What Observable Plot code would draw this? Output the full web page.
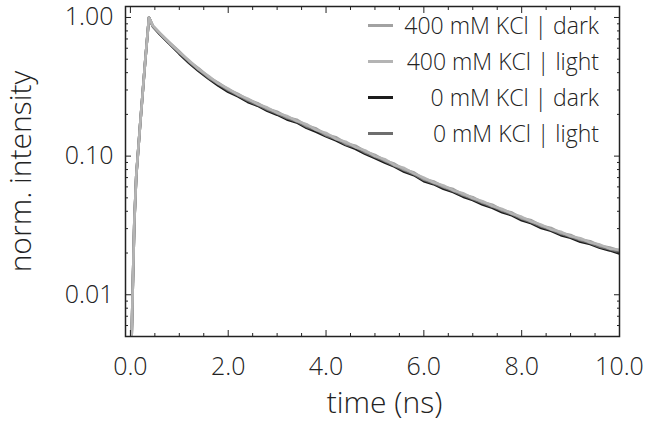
<!DOCTYPE html>
<html>
<head>
<meta charset="utf-8">
<script src="https://cdn.jsdelivr.net/npm/d3@7"></script>
<script src="https://cdn.jsdelivr.net/npm/@observablehq/plot@0.6"></script>
<style>
  body { margin: 0; background: #fff; }
  #wrap { position: relative; width: 650px; height: 426px; font-family: "Open Sans", sans-serif; font-weight: 300; color: #222; }
  #legend { position: absolute; left: 368px; top: 7px; width: 231px; font-size: 23px; }
  #legend .row { display: flex; align-items: center; height: 36px; }
  #legend .sw { width: 25px; height: 3px; flex: none; }
  #legend .lb { flex: 1; text-align: right; white-space: nowrap; color: #222; }
</style>
</head>
<body>
<div id="wrap"></div>
<script>
const seriesNames = ["400 mM KCl | dark", "400 mM KCl | light", "0 mM KCl | dark", "0 mM KCl | light"];
const seriesColors = ["#a2a2a2", "#b4b4b4", "#1c1c1c", "#6e6e6e"];

const time = [0.02,0.05,0.08,0.12,0.2,0.3,0.38,0.46,
  0.6,0.8,1.0,1.2,1.4,1.6,1.8,2.0,2.2,2.4,2.6,2.8,3.0,3.2,3.4,3.6,3.8,4.0,4.2,4.4,4.6,4.8,
  5.0,5.2,5.4,5.6,5.8,6.0,6.2,6.4,6.6,6.8,7.0,7.2,7.4,7.6,7.8,8.0,8.2,8.4,8.6,8.8,9.0,9.2,9.4,9.6,9.8,10.0];

const kcl400Dark = [0.004,0.012,0.033,0.072,0.17,0.47,1.0,0.87,
  0.77,0.66,0.568,0.484,0.428,0.372,0.338,0.303,0.281,0.256,0.241,0.220,0.209,0.191,0.183,0.166,0.158,0.143,0.137,0.124,0.119,0.108,
  0.102,0.093,0.088,0.080,0.0762,0.0685,0.0656,0.0602,0.0578,0.0528,0.0506,0.0464,0.0446,0.0408,0.0392,0.0357,0.0344,0.0315,0.0303,0.0279,0.0270,0.0250,0.0243,0.0226,0.0219,0.0209];
const kcl400Light = [0.004,0.012,0.033,0.072,0.17,0.47,1.0,0.87,
  0.775,0.655,0.562,0.49,0.422,0.378,0.333,0.307,0.277,0.260,0.237,0.224,0.205,0.195,0.179,0.170,0.154,0.147,0.133,0.127,0.116,0.110,
  0.100,0.095,0.086,0.082,0.0748,0.0698,0.0645,0.0615,0.0566,0.0540,0.0497,0.0473,0.0437,0.0416,0.0384,0.0365,0.0337,0.0320,0.0296,0.0285,0.0264,0.0256,0.0238,0.0230,0.0215,0.0211];
const kcl0Dark = [0.004,0.012,0.033,0.072,0.17,0.47,1.0,0.86,
  0.76,0.645,0.548,0.470,0.410,0.362,0.322,0.291,0.270,0.246,0.231,0.212,0.199,0.184,0.175,0.160,0.150,0.139,0.130,0.120,0.113,0.104,
  0.097,0.090,0.084,0.077,0.0728,0.0660,0.0628,0.0582,0.0550,0.0510,0.0482,0.0448,0.0424,0.0394,0.0374,0.0344,0.0328,0.0303,0.0289,0.0269,0.0258,0.0241,0.0232,0.0218,0.0209,0.0198];
const kcl0Light = [0.004,0.012,0.033,0.072,0.17,0.47,1.0,0.865,
  0.768,0.652,0.556,0.478,0.418,0.367,0.330,0.298,0.274,0.252,0.234,0.217,0.203,0.188,0.178,0.163,0.154,0.141,0.133,0.122,0.116,0.106,
  0.099,0.092,0.085,0.079,0.0738,0.0675,0.0637,0.0595,0.0560,0.0522,0.0490,0.0459,0.0432,0.0404,0.0380,0.0353,0.0333,0.0311,0.0294,0.0275,0.0262,0.0247,0.0236,0.0222,0.0213,0.0203];

const xMajor = [0, 2, 4, 6, 8, 10];
const xMinor = [0.5,1,1.5,2.5,3,3.5,4.5,5,5.5,6.5,7,7.5,8.5,9,9.5];
const yMajor = [0.01, 0.1, 1];
const yMinor = [0.006,0.007,0.008,0.009,0.02,0.03,0.04,0.05,0.06,0.07,0.08,0.09,0.2,0.3,0.4,0.5,0.6,0.7,0.8,0.9];
const xLabel = "time (ns)";
const yLabel = "norm. intensity";

const valuesBySeries = [kcl400Dark, kcl400Light, kcl0Dark, kcl0Light];
const rows = [];
valuesBySeries.forEach((vals, s) => vals.forEach((v, i) => rows.push({t: time[i], v, s: seriesNames[s]})));
const drawOrder = [2, 3, 0, 1];

const axisColor = "#222";
const plot = Plot.plot({
  width: 650,
  height: 426,
  marginLeft: 125,
  marginRight: 31,
  marginTop: 6,
  marginBottom: 90,
  style: {fontFamily: "'Open Sans', sans-serif", fontSize: "24px", fontWeight: 300, color: axisColor, background: "#fff", overflow: "visible"},
  x: {domain: [-0.1, 10], axis: null},
  y: {type: "log", domain: [0.005, 1.2], axis: null},
  marks: [
    ...drawOrder.map(s => Plot.line(rows.filter(d => d.s === seriesNames[s]), {x: "t", y: "v", stroke: seriesColors[s], strokeWidth: 2.6, clip: true})),
    Plot.frame({stroke: axisColor, strokeWidth: 1.5}),
    Plot.axisX(xMajor, {anchor: "bottom", tickSize: -6, tickFormat: () => "", stroke: axisColor, label: null}),
    Plot.axisX(xMinor, {anchor: "bottom", tickSize: -3, tickFormat: () => "", stroke: axisColor, label: null}),
    Plot.axisX(xMajor, {anchor: "top", tickSize: -6, tickFormat: () => "", stroke: axisColor, label: null}),
    Plot.axisX(xMinor, {anchor: "top", tickSize: -3, tickFormat: () => "", stroke: axisColor, label: null}),
    Plot.axisY(yMajor, {anchor: "left", tickSize: -6, tickFormat: () => "", stroke: axisColor, label: null}),
    Plot.axisY(yMinor, {anchor: "left", tickSize: -3, tickFormat: () => "", stroke: axisColor, label: null}),
    Plot.axisY(yMajor, {anchor: "right", tickSize: -6, tickFormat: () => "", stroke: axisColor, label: null}),
    Plot.axisY(yMinor, {anchor: "right", tickSize: -3, tickFormat: () => "", stroke: axisColor, label: null}),
    Plot.axisX(xMajor, {anchor: "bottom", tickSize: 0, tickPadding: 21, tickFormat: d3.format(".1f"), fill: axisColor, fontSize: 25, label: null}),
    Plot.axisY(yMajor, {anchor: "left", tickSize: 0, tickPadding: 12, tickFormat: d3.format(".2f"), fill: axisColor, fontSize: 25, label: null}),
    Plot.text([xLabel], {frameAnchor: "bottom", dy: 76, dx: 12, fontSize: 30, fill: axisColor}),
    Plot.text([yLabel], {frameAnchor: "left", dx: -104, rotate: -90, textAnchor: "middle", fontSize: 30, fill: axisColor})
  ]
});

const wrap = document.getElementById("wrap");
wrap.appendChild(plot);
const legend = document.createElement("div");
legend.id = "legend";
seriesNames.forEach((name, i) => {
  const row = document.createElement("div");
  row.className = "row";
  const sw = document.createElement("span");
  sw.className = "sw";
  sw.style.background = seriesColors[i];
  const lb = document.createElement("span");
  lb.className = "lb";
  lb.textContent = name;
  row.append(sw, lb);
  legend.appendChild(row);
});
wrap.appendChild(legend);
</script>
</body>
</html>
